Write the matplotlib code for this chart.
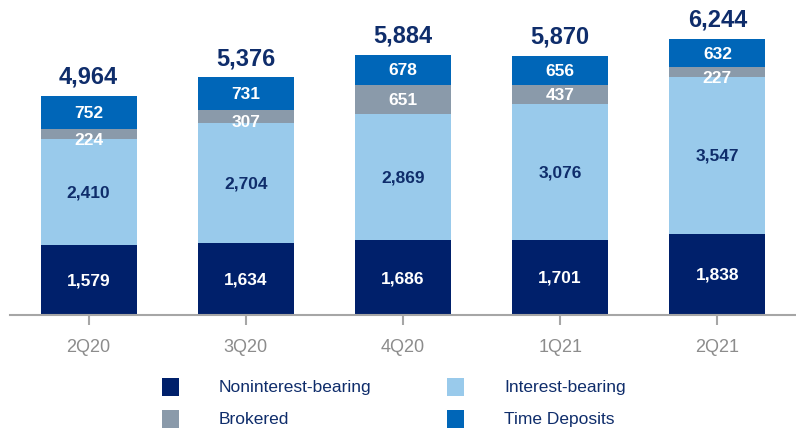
import matplotlib.pyplot as plt
from matplotlib.patches import Rectangle

plt.rcParams["font.family"] = ["Liberation Sans", "DejaVu Sans"]

quarters = ["2Q20", "3Q20", "4Q20", "1Q21", "2Q21"]
noninterest = [1579, 1634, 1686, 1701, 1838]
interest = [2410, 2704, 2869, 3076, 3547]
brokered = [224, 307, 651, 437, 227]
time_dep = [752, 731, 678, 656, 632]
totals = [4964, 5376, 5884, 5870, 6244]

series = [
    ("Noninterest-bearing", noninterest, "#00206B", "white"),
    ("Interest-bearing", interest, "#99CAEB", "#0F2D6B"),
    ("Brokered", brokered, "#8A9AAA", "white"),
    ("Time Deposits", time_dep, "#0066B8", "white"),
]
NAVY = "#0F2D6B"

fig = plt.figure(figsize=(7.96, 4.31), dpi=100)
ax = fig.add_axes([0.0125, 0.2668, 0.9875, 0.7332])
x = list(range(len(quarters)))

bottom = [0] * len(quarters)
for name, vals, color, tcolor in series:
    ax.bar(x, vals, width=0.61, bottom=bottom, color=color, linewidth=0)
    for i, v in enumerate(vals):
        yc = bottom[i] + v / 2
        # thin brokered slices: push the label down so it stays readable
        if name == "Brokered" and v < 350:
            yc -= 120
        ax.text(i, yc, f"{v:,}", ha="center", va="center", fontsize=12.5,
                fontweight="bold", color=tcolor)
    bottom = [b + v for b, v in zip(bottom, vals)]

for i, t in enumerate(totals):
    ax.text(i, bottom[i] + 300, f"{t:,}", ha="center", va="baseline", fontsize=17,
            fontweight="bold", color=NAVY)

ax.set_xlim(-0.5, 4.5)
ax.set_ylim(0, 7150)
ax.set_xticks(x)
ax.set_xticklabels(quarters, fontsize=13, color="#8C8C8C")
ax.tick_params(axis="x", length=7.5, width=1.5, color="#A6A6A6", pad=9)
ax.set_yticks([])
for side in ["top", "right", "left"]:
    ax.spines[side].set_visible(False)
ax.spines["bottom"].set_color("#A6A6A6")
ax.spines["bottom"].set_linewidth(1.5)

# legend drawn by hand in two columns
W, H = 796, 431
cols = [(162, 219), (447, 504)]
rows = [379, 411]
for k, (name, _, color, _) in enumerate(series):
    mx, tx = cols[k % 2]
    my = rows[k // 2]
    fig.patches.append(Rectangle((mx / W, 1 - (my + 18) / H), 17 / W, 18 / H,
                                 transform=fig.transFigure, color=color, linewidth=0))
    fig.text(tx / W, 1 - (my + 9) / H, name, ha="left", va="center",
             fontsize=12.5, color=NAVY)

fig.savefig("out.png", dpi=100)
